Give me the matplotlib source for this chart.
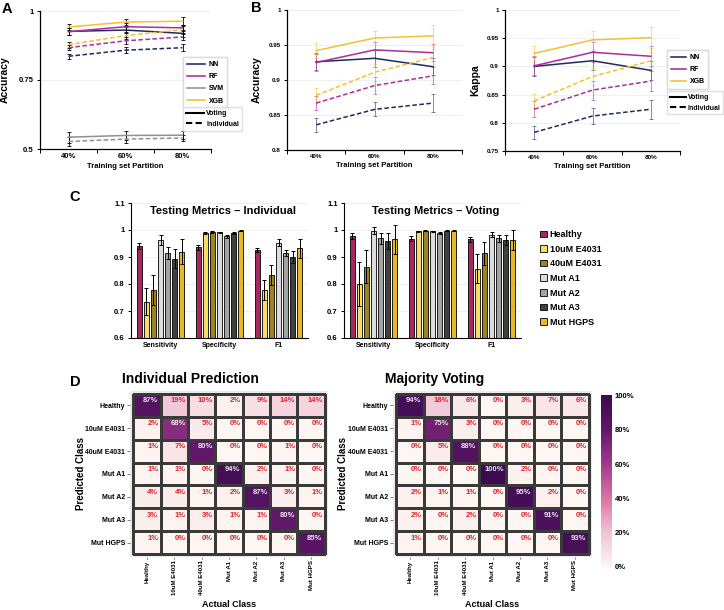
import numpy as np
import matplotlib
matplotlib.use("Agg")
import matplotlib.pyplot as plt
from matplotlib.lines import Line2D
from matplotlib.patches import Patch
from matplotlib.colors import LinearSegmentedColormap, to_rgba

plt.rcParams['font.family'] = ['Liberation Sans', 'DejaVu Sans']
plt.rcParams['font.weight'] = 'bold'
plt.rcParams['axes.labelweight'] = 'bold'
plt.rcParams['axes.titleweight'] = 'bold'

# ---------------- data ----------------
partitions = ['40%', '60%', '80%']
models = ['NN', 'RF', 'SVM', 'XGB']

# accuracy, voting
nn_acc_vote = [0.926, 0.931, 0.919]
rf_acc_vote = [0.925, 0.943, 0.939]
svm_acc_vote = [0.543, 0.549, 0.550]
xgb_acc_vote = [0.942, 0.960, 0.963]
# accuracy, individual
nn_acc_ind = [0.836, 0.858, 0.867]
rf_acc_ind = [0.867, 0.892, 0.906]
svm_acc_ind = [0.527, 0.536, 0.540]
xgb_acc_ind = [0.878, 0.911, 0.932]
# accuracy errors
nn_acc_vote_err = [0.012, 0.012, 0.012]
rf_acc_vote_err = [0.012, 0.012, 0.012]
svm_acc_vote_err = [0.02, 0.018, 0.015]
xgb_acc_vote_err = [0.011, 0.010, 0.015]
nn_acc_ind_err = [0.010, 0.010, 0.013]
rf_acc_ind_err = [0.010, 0.012, 0.012]
svm_acc_ind_err = [0.015, 0.015, 0.012]
xgb_acc_ind_err = [0.011, 0.012, 0.012]

# kappa
nn_kap_vote = [0.900, 0.910, 0.893]
rf_kap_vote = [0.901, 0.925, 0.918]
xgb_kap_vote = [0.923, 0.947, 0.951]
nn_kap_ind = [0.783, 0.812, 0.824]
rf_kap_ind = [0.824, 0.858, 0.874]
xgb_kap_ind = [0.839, 0.882, 0.910]
nn_kap_vote_err = [0.017, 0.017, 0.017]
rf_kap_vote_err = [0.017, 0.018, 0.018]
xgb_kap_vote_err = [0.014, 0.016, 0.019]
nn_kap_ind_err = [0.012, 0.014, 0.017]
rf_kap_ind_err = [0.014, 0.017, 0.017]
xgb_kap_ind_err = [0.012, 0.015, 0.016]

# testing metrics
classes = ['Healthy', '10uM E4031', '40uM E4031', 'Mut A1', 'Mut A2', 'Mut A3', 'Mut HGPS']
metrics = ['Sensitivity', 'Specificity', 'F1']
ind_sens = [0.940, 0.735, 0.778, 0.963, 0.915, 0.894, 0.920]
ind_sens_err = [0.012, 0.050, 0.054, 0.018, 0.022, 0.036, 0.047]
ind_spec = [0.936, 0.990, 0.993, 0.991, 0.976, 0.990, 0.997]
ind_spec_err = [0.010, 0.004, 0.003, 0.003, 0.006, 0.003, 0.002]
ind_f1 = [0.926, 0.777, 0.834, 0.953, 0.914, 0.901, 0.933]
ind_f1_err = [0.008, 0.037, 0.037, 0.013, 0.012, 0.022, 0.035]
vote_sens = [0.978, 0.800, 0.864, 0.997, 0.970, 0.958, 0.965]
vote_sens_err = [0.012, 0.080, 0.062, 0.013, 0.020, 0.030, 0.053]
vote_spec = [0.968, 0.995, 0.998, 0.996, 0.990, 0.997, 0.998]
vote_spec_err = [0.010, 0.002, 0.002, 0.002, 0.004, 0.002, 0.002]
vote_f1 = [0.965, 0.857, 0.913, 0.983, 0.969, 0.963, 0.963]
vote_f1_err = [0.010, 0.053, 0.042, 0.010, 0.012, 0.020, 0.037]

# confusion matrices (rows = predicted, cols = actual), percent
cm_individual = [
    [87, 19, 10, 2, 9, 14, 14],
    [2, 68, 5, 0, 0, 0, 0],
    [1, 7, 80, 0, 0, 1, 0],
    [1, 1, 0, 94, 2, 1, 0],
    [4, 4, 1, 2, 87, 3, 1],
    [3, 1, 3, 1, 1, 80, 0],
    [1, 0, 0, 0, 0, 0, 85],
]
cm_voting = [
    [94, 18, 6, 0, 3, 7, 6],
    [1, 75, 3, 0, 0, 0, 0],
    [0, 5, 88, 0, 0, 0, 0],
    [0, 0, 0, 100, 2, 0, 0],
    [2, 1, 1, 0, 95, 2, 0],
    [2, 0, 2, 0, 0, 91, 0],
    [1, 0, 0, 0, 0, 0, 93],
]

model_colors = {'NN': '#1f2a5e', 'RF': '#b02a9f', 'SVM': '#909090', 'XGB': '#f2c22e'}
class_colors = ['#a8275f', '#f7dc6a', '#a2811f', '#dcdcdc', '#a3a3a3', '#404040', '#e9b824']

W, H = 724, 610
fig = plt.figure(figsize=(W / 100, H / 100), dpi=100)


def box(l, t, r, b):
    return [l / W, 1 - b / H, (r - l) / W, (b - t) / H]


def line_panel(ax, names, vote, vote_err, ind, ind_err, ylim, yticks, ylabels,
               ylabel, black_err, tick_fs, ylab_x):
    x = np.arange(1, 4)
    for m in names:
        c = model_colors[m]
        ec = 'black' if black_err else to_rgba(c, 0.65)
        ax.errorbar(x, vote[m], yerr=vote_err[m], color=c, lw=1.1, ecolor=ec,
                    elinewidth=0.6, capsize=1.6, capthick=0.6)
        ax.errorbar(x, ind[m], yerr=ind_err[m], color=c, lw=1.1, ls=(0, (3, 1.6)),
                    ecolor=ec, elinewidth=0.6, capsize=1.6, capthick=0.6)
    ax.set_xlim(0.5, 3.5)
    ax.set_ylim(*ylim)
    ax.set_xticks(x, partitions, fontsize=tick_fs)
    ax.set_xticks([0.5, 1.5, 2.5, 3.5], minor=True)
    ax.tick_params(axis='x', which='major', length=0, pad=3)
    ax.tick_params(axis='x', which='minor', length=3, width=0.7)
    ax.set_yticks(yticks, ylabels, fontsize=tick_fs)
    ax.tick_params(axis='y', length=2.5, width=0.7, pad=2)
    ax.grid(axis='y', color='#ececec', lw=0.6)
    ax.set_axisbelow(True)
    for s in ['top', 'right']:
        ax.spines[s].set_visible(False)
    for s in ['left', 'bottom']:
        ax.spines[s].set_linewidth(0.9)
    ax.set_ylabel(ylabel, fontsize=7.5)
    ax.yaxis.set_label_coords(ylab_x, 0.5)
    ax.set_xlabel('Training set Partition', fontsize=5.5, labelpad=2)


def model_legends(names, x0, y1, y2, hl):
    h1 = [Line2D([], [], color=model_colors[m], lw=1.1) for m in names]
    l1 = fig.legend(h1, names, loc='upper left', bbox_to_anchor=(x0 / W, 1 - y1 / H),
                    fontsize=5, frameon=True, fancybox=False, edgecolor='#d8d8d8',
                    handlelength=hl, labelspacing=0.75, borderpad=0.5, handletextpad=0.5)
    h2 = [Line2D([], [], color='black', lw=1.5),
          Line2D([], [], color='black', lw=1.5, ls=(0, (3, 1.6)))]
    fig.legend(h2, ['Voting', 'Individual'], loc='upper left',
               bbox_to_anchor=(x0 / W, 1 - y2 / H), fontsize=5, frameon=True,
               fancybox=False, edgecolor='#d8d8d8', handlelength=hl,
               labelspacing=0.5, borderpad=0.4, handletextpad=0.3)
    fig.add_artist(l1)


# ---------------- panel A ----------------
acc_vote = {'NN': nn_acc_vote, 'RF': rf_acc_vote, 'SVM': svm_acc_vote, 'XGB': xgb_acc_vote}
acc_ind = {'NN': nn_acc_ind, 'RF': rf_acc_ind, 'SVM': svm_acc_ind, 'XGB': xgb_acc_ind}
acc_vote_err = {'NN': nn_acc_vote_err, 'RF': rf_acc_vote_err, 'SVM': svm_acc_vote_err, 'XGB': xgb_acc_vote_err}
acc_ind_err = {'NN': nn_acc_ind_err, 'RF': rf_acc_ind_err, 'SVM': svm_acc_ind_err, 'XGB': xgb_acc_ind_err}

axA = fig.add_axes(box(40, 11, 211, 149))
line_panel(axA, models, acc_vote, acc_vote_err, acc_ind, acc_ind_err, (0.5, 1.0),
           [0.5, 0.75, 1.0], ['0.5', '0.75', '1'], 'Accuracy', True, 5.5, -30 / 171)
model_legends(models, 180, 54, 104, 2.6)

# ---------------- panel B ----------------
b_models = ['NN', 'RF', 'XGB']
axB1 = fig.add_axes(box(287, 10, 462, 150))
line_panel(axB1, b_models, acc_vote, acc_vote_err, acc_ind, acc_ind_err, (0.8, 1.0),
           [0.8, 0.85, 0.9, 0.95, 1.0], ['0.8', '0.85', '0.9', '0.95', '1'],
           'Accuracy', False, 4.5, -25 / 175)

kap_vote = {'NN': nn_kap_vote, 'RF': rf_kap_vote, 'XGB': xgb_kap_vote}
kap_ind = {'NN': nn_kap_ind, 'RF': rf_kap_ind, 'XGB': xgb_kap_ind}
kap_vote_err = {'NN': nn_kap_vote_err, 'RF': rf_kap_vote_err, 'XGB': xgb_kap_vote_err}
kap_ind_err = {'NN': nn_kap_ind_err, 'RF': rf_kap_ind_err, 'XGB': xgb_kap_ind_err}
axB2 = fig.add_axes(box(505, 10, 680, 151))
line_panel(axB2, b_models, kap_vote, kap_vote_err, kap_ind, kap_ind_err, (0.75, 1.0),
           [0.75, 0.8, 0.85, 0.9, 0.95, 1.0], ['0.75', '0.8', '0.85', '0.9', '0.95', '1'],
           'Kappa', False, 4.5, -25 / 175)
model_legends(b_models, 664, 47, 88, 2.2)

# ---------------- panel C ----------------
def bar_panel(ax, data, errs, title):
    slot, width = 0.12, 0.09
    x = np.arange(len(metrics))
    for k, cls in enumerate(classes):
        vals = [d[k] for d in data]
        ee = [e[k] for e in errs]
        ax.bar(x + (k - 3) * slot, vals, width, yerr=ee, color=class_colors[k],
               edgecolor='black', linewidth=0.6,
               error_kw=dict(ecolor='black', elinewidth=0.7, capsize=1.6, capthick=0.7))
    ax.set_xlim(-0.5, 2.5)
    ax.set_ylim(0.6, 1.1)
    ax.set_xticks(x, metrics, fontsize=5)
    ax.tick_params(axis='x', length=0, pad=3)
    ax.set_yticks([0.6, 0.7, 0.8, 0.9, 1.0, 1.1], ['0.6', '0.7', '0.8', '0.9', '1', '1.1'], fontsize=5.5)
    ax.tick_params(axis='y', length=2.5, width=0.7, pad=2)
    ax.grid(axis='y', color='#ececec', lw=0.6)
    ax.set_axisbelow(True)
    for s in ['top', 'right']:
        ax.spines[s].set_visible(False)
    ax.text(0.52, 0.94, title, transform=ax.transAxes, ha='center', va='center', fontsize=8)


axC1 = fig.add_axes(box(131, 203, 308, 338))
bar_panel(axC1, [ind_sens, ind_spec, ind_f1], [ind_sens_err, ind_spec_err, ind_f1_err],
          'Testing Metrics \u2013 Individual')
axC2 = fig.add_axes(box(344, 203, 521, 338))
bar_panel(axC2, [vote_sens, vote_spec, vote_f1], [vote_sens_err, vote_spec_err, vote_f1_err],
          'Testing Metrics \u2013 Voting')
class_handles = [Patch(facecolor=c, edgecolor='black', linewidth=0.6) for c in class_colors]
fig.legend(class_handles, classes, loc='upper left', bbox_to_anchor=(532 / W, 1 - 222 / H),
           fontsize=6.5, frameon=False, handlelength=0.75, handleheight=0.75,
           handletextpad=0.3, labelspacing=0.62)

# ---------------- panel D ----------------
cmap = LinearSegmentedColormap.from_list(
    'cm', ['#fdf6f2', '#f1c4d5', '#dc72a6', '#a23a8e', '#62186a', '#3b0a50'],
)


def heat_panel(ax, mat, title, ylab_px):
    m = np.array(mat)
    n = len(classes)
    ax.set_facecolor('#ebebeb')
    ax.pcolormesh(np.arange(n + 1) - 0.5, np.arange(n + 1) - 0.5, m, cmap=cmap,
                  vmin=0, vmax=100, edgecolors='#3a3a3a', linewidth=0.8)
    for i in range(n):
        for j in range(n):
            col = '#e8e8e8' if i == j else '#e0232a'
            ax.text(j + 0.42, i - 0.2, f'{m[i, j]}%', ha='right', va='center',
                    fontsize=5.5, color=col)
    ax.set_xlim(-0.62, n - 0.38)
    ax.set_ylim(n - 0.38, -0.62)
    ax.set_xticks(range(n), classes, rotation=90, fontsize=4.4, va='top', ha='center')
    ax.set_yticks(range(n), classes, fontsize=5)
    ax.tick_params(axis='y', length=2, width=0.5, color='#444444', pad=1.5)
    ax.tick_params(axis='x', length=1.5, width=0.5, color='#444444', pad=1)
    for s in ax.spines.values():
        s.set_visible(False)
    pos = ax.get_position()
    fig.text(pos.x0 + pos.width / 2, 1 - 604.5 / H, 'Actual Class', fontsize=6.5,
             ha='center', va='center')
    fig.text(ylab_px / W, pos.y0 + pos.height / 2, 'Predicted Class', fontsize=7,
             rotation=90, ha='center', va='center')
    ax.set_title(title, fontsize=10, fontweight='bold', loc='left', x=-0.04, pad=6)


axD1 = fig.add_axes(box(130, 391, 328, 557))
heat_panel(axD1, cm_individual, 'Individual Prediction', 81)
axD2 = fig.add_axes(box(393, 391, 592, 557))
heat_panel(axD2, cm_voting, 'Majority Voting', 343)

cax = fig.add_axes(box(601, 390, 612, 569))
cax.imshow(np.linspace(0, 100, 256)[:, None], cmap=cmap, aspect='auto', origin='lower',
           extent=[0, 1, 0, 100])
cax.set_ylim(-1.35, 103.3)
cax.set_xlim(0, 1)
cax.set_xticks([])
cax.yaxis.tick_right()
cax.set_yticks([0, 20, 40, 60, 80, 100], ['0%', '20%', '40%', '60%', '80%', '100%'], fontsize=5.5)
cax.tick_params(axis='y', length=0, pad=2)
for s in cax.spines.values():
    s.set_visible(False)

# panel letters
for letter, (px, py) in {'A': (7, 9), 'B': (256, 8), 'C': (75, 197), 'D': (75, 382)}.items():
    fig.text(px / W, 1 - py / H, letter, fontsize=10.5, ha='center', va='center')

fig.savefig('out.png', dpi=100)
